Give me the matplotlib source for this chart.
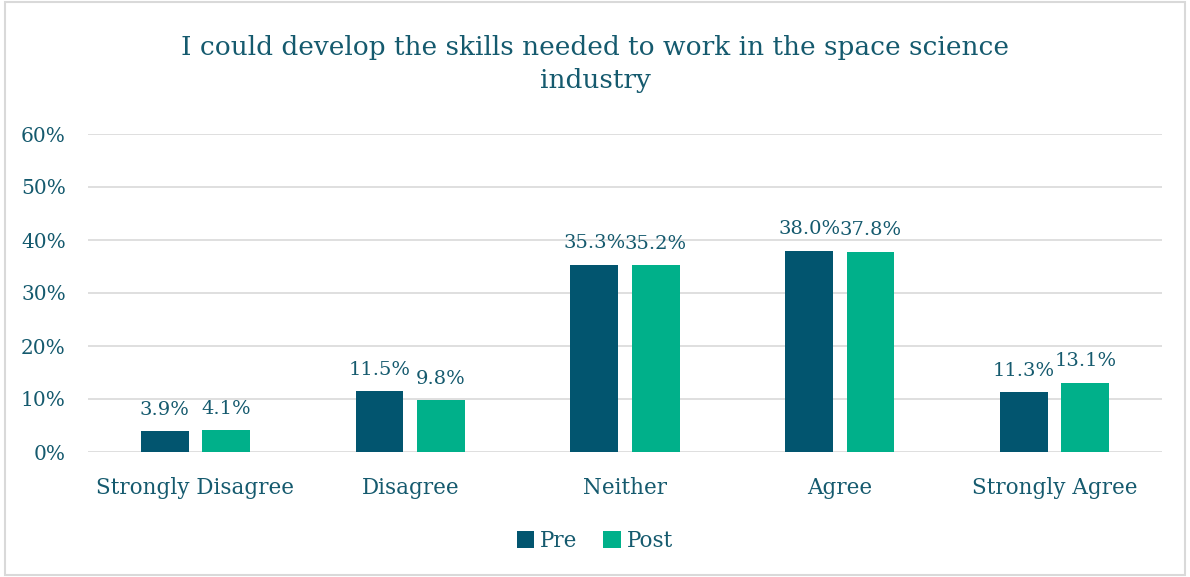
import matplotlib
matplotlib.use("Agg")
import matplotlib.pyplot as plt
import numpy as np
from matplotlib.patches import Rectangle

categories = ["Strongly Disagree", "Disagree", "Neither", "Agree", "Strongly Agree"]
pre = [3.9, 11.5, 35.3, 38.0, 11.3]
post = [4.1, 9.8, 35.2, 37.8, 13.1]
series_names = ["Pre", "Post"]
yticks = [0, 10, 20, 30, 40, 50, 60]

pre_color = "#02556F"
post_color = "#00B08A"
text_color = "#155A6E"
font = ["DejaVu Serif"]

plt.rcParams['font.family'] = font

fig = plt.figure(figsize=(11.9, 5.77), dpi=100)
fig.patches.append(Rectangle((0.004, 0.004), 0.992, 0.992, transform=fig.transFigure,
                             fill=False, edgecolor="#D9D9D9", linewidth=1.5))
ax = fig.add_axes([88/1190, 1-452/577, (1162-88)/1190, (452-134)/577])

x = np.arange(len(categories))
w = 0.223
off = 0.143
b1 = ax.bar(x - off, pre, w, color=pre_color, label=series_names[0], zorder=3)
b2 = ax.bar(x + off, post, w, color=post_color, label=series_names[1], zorder=3)
for bars, vals in ((b1, pre), (b2, post)):
    for r, v in zip(bars, vals):
        ax.annotate(f"{v:.1f}%", (r.get_x() + r.get_width()/2, v), xytext=(0, 9),
                    textcoords="offset points", ha="center", va="bottom",
                    fontsize=14, color=text_color)

ax.set_xlim(-0.5, 4.5)
ax.set_ylim(0, 60)
ax.set_yticks(yticks)
ax.set_yticklabels([f"{t}%" for t in yticks], fontsize=14.5, color=text_color)
ax.set_xticks(x)
ax.set_xticklabels(categories, fontsize=15.5, color=text_color)
ax.tick_params(axis="both", length=0)
ax.tick_params(axis="y", pad=16)
ax.tick_params(axis="x", pad=18)
ax.grid(axis="y", color="#D9D9D9", linewidth=1.2, zorder=0)
for s in ax.spines.values():
    s.set_visible(False)

fig.text(0.5, 1-64/577, "I could develop the skills needed to work in the space science\nindustry",
         ha="center", va="center", fontsize=19, color=text_color, linespacing=1.4)

leg = fig.legend(handles=[b1, b2], loc="center", bbox_to_anchor=(0.5, 1-541/577), ncol=2,
                 frameon=False, fontsize=15.5, handlelength=0.8, handleheight=0.8,
                 handletextpad=0.3, columnspacing=1.2)
for t in leg.get_texts():
    t.set_color(text_color)

fig.savefig("out.png", dpi=100)
